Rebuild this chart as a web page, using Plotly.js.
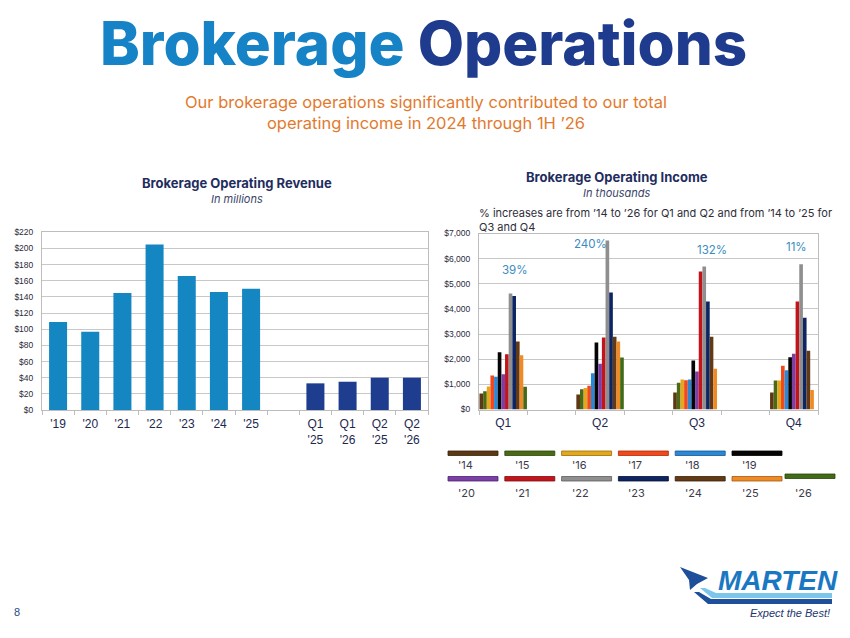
<!DOCTYPE html>
<html>
<head>
<meta charset="utf-8">
<script src="https://cdn.plot.ly/plotly-3.0.1.min.js"></script>
<style>
html,body{margin:0;padding:0;background:#fff;}
#chart{width:850px;height:638px;}
</style>
</head>
<body>
<div id="chart"></div>
<script>
// ---------- DATA ----------
// Brokerage Operating Revenue (in millions)
var revYearLabels = ["'19", "'20", "'21", "'22", "'23", "'24", "'25"];
var revYearValues = [109, 97, 145, 205, 166, 146, 150];
var revQtrLabels = ["Q1<br>'25", "Q1<br>'26", "Q2<br>'25", "Q2<br>'26"];
var revQtrValues = [33, 35, 40, 40];
var revTickVals = [0, 20, 40, 60, 80, 100, 120, 140, 160, 180, 200, 220];

// Brokerage Operating Income (in thousands)
var incQuarters = ["Q1", "Q2", "Q3", "Q4"];
var incSeriesNames = ["'14", "'15", "'16", "'17", "'18", "'19", "'20", "'21", "'22", "'23", "'24", "'25", "'26"];
var inc14 = [640, 600, 675, 675];
var inc15 = [730, 810, 1060, 1150];
var inc16 = [915, 860, 1190, 1150];
var inc17 = [1350, 940, 1165, 1740];
var inc18 = [1300, 1445, 1190, 1565];
var inc19 = [2280, 2665, 1950, 2080];
var inc20 = [1400, 1815, 1510, 2215];
var inc21 = [2200, 2865, 5490, 4300];
var inc22 = [4615, 6720, 5690, 5780];
var inc23 = [4510, 4655, 4300, 3650];
var inc24 = [2700, 2890, 2890, 2335];
var inc25 = [2160, 2705, 1620, 780];
var inc26 = [900, 2070, null, null];
var incSeries = [inc14, inc15, inc16, inc17, inc18, inc19, inc20, inc21, inc22, inc23, inc24, inc25, inc26];
var incTickVals = [0, 1000, 2000, 3000, 4000, 5000, 6000, 7000];
var incPctLabels = ["39%", "240%", "132%", "11%"];

// ---------- STYLE ----------
var seriesColors = ["#5e3815", "#4a6a17", "#e4a81e", "#f2491c", "#2b88d6", "#050505", "#7b3fa6",
                    "#c3141b", "#8f8f8f", "#0d2563", "#633a16", "#f08a24", "#416b16"];
var seriesBorders = ["#3a2008", "#2d4508", "#9a6d05", "#a82c08", "#14558f", "#000000", "#4d2270",
                     "#7f0a0e", "#5c5c5c", "#050f30", "#3a2008", "#a35810", "#2a4508"];
var colYear = "#1486c2", colQtr = "#1e3d8f";
var navy = "#1f2d5e", grid = "#c8c8c8", tickCol = "#2a2a3a";

function px(x) { return x / 850; }
function py(y) { return 1 - y / 638; }

// ---------- LEFT CHART TRACE ----------
var revX = revYearLabels.concat(["gap"]).concat(revQtrLabels);
var revY = revYearValues.concat([null]).concat(revQtrValues);
var revColors = revYearLabels.map(function () { return colYear; }).concat([colYear])
  .concat(revQtrLabels.map(function () { return colQtr; }));
var revTickText = revX.map(function (c) { return c === "gap" ? "" : c; });

var traces = [{
  type: "bar", x: revX, y: revY, xaxis: "x", yaxis: "y",
  width: 0.56, marker: { color: revColors, line: { width: 0 } },
  hoverinfo: "x+y", showlegend: false
}];

// ---------- RIGHT CHART TRACES ----------
var incCats = ["Q1", "g1", "Q2", "g2", "Q3", "g3", "Q4"];
var incTickText = incCats.map(function (c) { return c.charAt(0) === "g" ? "" : c; });
incSeries.forEach(function (vals, i) {
  traces.push({
    type: "bar", x: incQuarters, y: vals, xaxis: "x2", yaxis: "y2",
    name: incSeriesNames[i],
    marker: { color: seriesColors[i], line: { width: 0 } },
    showlegend: false
  });
});

// ---------- SHAPES / ANNOTATIONS ----------
var shapes = [], annotations = [];

// Legend (custom: bar swatches with labels underneath)
var legX0 = 448, legStep = 56.8, legW = 50, legH = 4.5;
incSeriesNames.forEach(function (nm, i) {
  var row = i < 6 ? 0 : 1;
  var col = i < 6 ? i : i - 6;
  var x0 = legX0 + col * legStep;
  var y0 = row === 0 ? 451 : 476.5;
  if (i === 12) { x0 = 785; y0 = 474; }
  shapes.push({
    type: "rect", xref: "paper", yref: "paper",
    x0: px(x0), x1: px(x0 + legW), y0: py(y0), y1: py(y0 + legH),
    fillcolor: seriesColors[i], line: { color: seriesBorders[i], width: 0.8 }
  });
  annotations.push({
    xref: "paper", yref: "paper", x: px(x0 + 8), y: py(row === 0 ? 465 : 493),
    xanchor: "left", yanchor: "middle", showarrow: false, text: nm,
    font: { family: "Inter, Liberation Sans, sans-serif", size: 11, color: "#3c3c4c" }
  });
});

// Main title
annotations.push({
  xref: "paper", yref: "paper", x: px(423), y: py(43), xanchor: "center", yanchor: "middle",
  showarrow: false,
  text: '<span style="color:#1683c6">Brokerage</span> <span style="color:#1f3b8e">Operations</span>',
  font: { family: "Inter, sans-serif", size: 60, weight: 800, color: "#1f3b8e" }
});
// Subtitle
annotations.push({
  xref: "paper", yref: "paper", x: px(426), y: py(112), xanchor: "center", yanchor: "middle",
  showarrow: false, align: "center",
  text: "Our brokerage operations significantly contributed to our total<br>operating income in 2024 through 1H \u201926",
  font: { family: "Inter, sans-serif", size: 16.5, color: "#e27a2e" }
});
// Left chart title
annotations.push({
  xref: "paper", yref: "paper", x: px(237), y: py(182.5), xanchor: "center", yanchor: "middle",
  showarrow: false, text: "<b>Brokerage Operating Revenue</b>",
  font: { family: "Inter, sans-serif", size: 13, color: navy }
});
annotations.push({
  xref: "paper", yref: "paper", x: px(237), y: py(199), xanchor: "center", yanchor: "middle",
  showarrow: false, text: "<i>In millions</i>",
  font: { family: "Inter, sans-serif", size: 11, color: "#3a4468" }
});
// Right chart title
annotations.push({
  xref: "paper", yref: "paper", x: px(617), y: py(177), xanchor: "center", yanchor: "middle",
  showarrow: false, text: "<b>Brokerage Operating Income</b>",
  font: { family: "Inter, sans-serif", size: 13, color: navy }
});
annotations.push({
  xref: "paper", yref: "paper", x: px(617), y: py(193), xanchor: "center", yanchor: "middle",
  showarrow: false, text: "<i>In thousands</i>",
  font: { family: "Inter, sans-serif", size: 11, color: "#3a4468" }
});
annotations.push({
  xref: "paper", yref: "paper", x: px(477), y: py(220), xanchor: "left", yanchor: "middle",
  showarrow: false, align: "left",
  text: "% increases are from \u201914 to \u201926 for Q1 and Q2 and from \u201914 to \u201925 for<br>Q3 and Q4",
  font: { family: "Inter, sans-serif", size: 11, color: "#2e2e3a" }
});
// Percent labels
var pctPos = [[515, 270], [590, 244], [712, 250], [796, 247]];
incPctLabels.forEach(function (t, i) {
  annotations.push({
    xref: "paper", yref: "paper", x: px(pctPos[i][0]), y: py(pctPos[i][1]),
    xanchor: "center", yanchor: "middle", showarrow: false, text: t,
    font: { family: "Inter, sans-serif", size: 11.5, color: "#3a8cc0" }
  });
});
// Page number
annotations.push({
  xref: "paper", yref: "paper", x: px(17), y: py(612), xanchor: "center", yanchor: "middle",
  showarrow: false, text: "8",
  font: { family: "Liberation Sans, Arial, sans-serif", size: 11, color: "#2b4a8a" }
});
// Logo
shapes.push({
  type: "path", xref: "paper", yref: "paper",
  path: "M " + px(716) + "," + py(593) + " L " + px(832) + "," + py(593) + " L " + px(832) + "," + py(598) +
        " L " + px(712) + "," + py(598) + " L " + px(700) + "," + py(588) + " L " + px(705) + "," + py(588) + " Z",
  fillcolor: "#7cc6ec", line: { width: 0 }
});
shapes.push({
  type: "path", xref: "paper", yref: "paper",
  path: "M " + px(711) + "," + py(599) + " L " + px(832) + "," + py(599) + " L " + px(832) + "," + py(604) +
        " L " + px(708) + "," + py(604) + " L " + px(694) + "," + py(592) + " L " + px(699) + "," + py(592) + " Z",
  fillcolor: "#1d4f9a", line: { width: 0 }
});
// plane
shapes.push({
  type: "path", xref: "paper", yref: "paper",
  path: "M " + px(680) + "," + py(567) + " L " + px(708) + "," + py(578) + " L " + px(697) + "," + py(584) +
        " L " + px(690) + "," + py(590) + " L " + px(689) + "," + py(580) + " Z",
  fillcolor: "#1d4f9a", line: { width: 0 }
});
annotations.push({
  xref: "paper", yref: "paper", x: px(778), y: py(580), xanchor: "center", yanchor: "middle",
  showarrow: false, text: "<b><i>MARTEN</i></b>",
  font: { family: "Liberation Sans Narrow, Liberation Sans, Arial, sans-serif", size: 28, color: "#1a78c2" }
});
annotations.push({
  xref: "paper", yref: "paper", x: px(790), y: py(613), xanchor: "center", yanchor: "middle",
  showarrow: false, text: "<i>Expect the Best!</i>",
  font: { family: "Liberation Sans Narrow, Liberation Sans, Arial, sans-serif", size: 11, color: "#1d3570" }
});

// ---------- LAYOUT ----------
var layout = {
  width: 850, height: 638,
  margin: { l: 0, r: 0, t: 0, b: 0 },
  paper_bgcolor: "#ffffff", plot_bgcolor: "#ffffff",
  barmode: "group", bargap: 0.02, bargroupgap: 0,
  showlegend: false,
  xaxis: {
    domain: [px(42), px(428)], anchor: "y",
    type: "category", categoryorder: "array", categoryarray: revX,
    tickmode: "array", tickvals: revX, ticktext: revTickText,
    tickson: "boundaries", ticks: "outside", ticklen: 4, tickcolor: "#bdbdbd",
    ticklabelstandoff: 3,
    showline: true, linecolor: "#bdbdbd", linewidth: 1, mirror: true,
    showgrid: false, fixedrange: true,
    tickfont: { family: "Liberation Sans, Arial, sans-serif", size: 12, color: "#1c2850" }
  },
  yaxis: {
    domain: [py(410), py(232.3)], anchor: "x",
    range: [0, 220], tickvals: revTickVals,
    ticktext: revTickVals.map(function (v) { return "$" + v; }),
    showgrid: true, gridcolor: grid, gridwidth: 1,
    showline: true, linecolor: "#bdbdbd", mirror: true, zeroline: false,
    ticks: "", ticklabelstandoff: 6, fixedrange: true,
    tickfont: { family: "Liberation Sans, Arial, sans-serif", size: 8.5, color: tickCol }
  },
  xaxis2: {
    domain: [px(479), px(818)], anchor: "y2",
    type: "category", categoryorder: "array", categoryarray: incCats,
    tickmode: "array", tickvals: incCats, ticktext: incTickText,
    tickson: "boundaries", ticks: "outside", ticklen: 4, tickcolor: "#bdbdbd",
    ticklabelstandoff: 2,
    showline: true, linecolor: "#bdbdbd", linewidth: 1, mirror: true,
    showgrid: false, fixedrange: true,
    tickfont: { family: "Liberation Sans, Arial, sans-serif", size: 12, color: "#1c2850" }
  },
  yaxis2: {
    domain: [py(409.5), py(233.5)], anchor: "x2",
    range: [0, 7000], tickvals: incTickVals,
    ticktext: incTickVals.map(function (v) { return "$" + v.toLocaleString("en-US"); }),
    showgrid: true, gridcolor: grid, gridwidth: 1,
    showline: true, linecolor: "#bdbdbd", mirror: true, zeroline: false,
    ticks: "", ticklabelstandoff: 6, fixedrange: true,
    tickfont: { family: "Liberation Sans, Arial, sans-serif", size: 8.5, color: tickCol }
  },
  shapes: shapes,
  annotations: annotations
};

Plotly.newPlot("chart", traces, layout, { displayModeBar: false, staticPlot: true });
</script>
</body>
</html>
